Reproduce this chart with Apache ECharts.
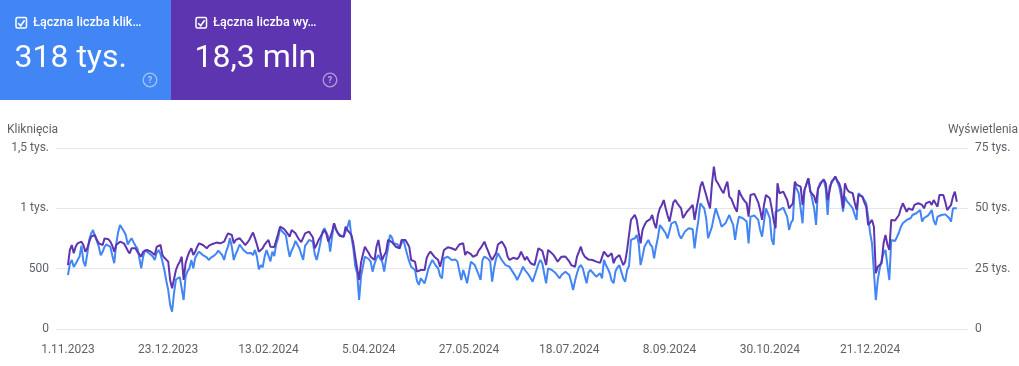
<!DOCTYPE html>
<html><head><meta charset="utf-8">
<script src="https://cdn.jsdelivr.net/npm/echarts@6/dist/echarts.min.js"></script>
<style>html,body{margin:0;padding:0;background:#fff}#c{width:1019px;height:366px}</style>
</head><body><div id="c"></div>
<script>
// ---- data (daily, starting 1.11.2023) ----
const startDate = '2023-11-01';
const clicks = [
447,540,572,513,540,572,600,690,560,520,620,737,790,820,770,730,682,610,640,682,700,710,680,610,545,700,800,862,850,810,
779,700,730,752,720,690,669,590,503,600,655,660,627,635,600,572,630,655,620,560,489,400,323,200,143,296,410,425,430,434,
240,434,480,503,572,503,590,620,641,625,613,600,594,572,590,600,610,627,649,630,613,572,640,682,752,680,572,620,655,700,
690,655,640,627,641,630,613,655,600,495,530,511,600,655,669,560,641,605,700,752,835,810,800,779,680,599,650,682,730,738,
669,620,572,690,710,738,730,724,620,572,641,720,807,835,800,765,641,765,876,820,807,779,770,765,779,848,904,765,669,520,
462,240,434,520,599,613,580,558,475,540,586,613,580,558,475,580,669,779,760,710,724,700,669,710,738,738,613,560,516,500,
489,400,365,420,434,379,440,503,540,572,545,520,503,440,420,586,590,599,585,572,586,575,558,480,406,489,440,379,470,558,
545,530,489,450,406,572,600,613,580,558,392,503,580,627,599,572,550,530,520,516,490,475,440,406,420,475,516,489,480,448,
420,392,440,489,540,572,545,460,379,503,500,489,475,462,440,420,448,460,475,460,448,392,323,400,462,510,530,503,440,379,
470,489,470,462,434,450,462,420,572,530,500,462,400,379,480,510,530,475,420,392,489,522,738,745,752,779,710,530,600,682,
710,738,700,682,586,682,760,862,840,835,793,750,738,876,885,890,848,779,750,738,807,820,835,830,826,669,800,904,1042,1020,
1000,918,752,800,848,930,1000,950,904,848,860,876,910,945,900,862,738,850,931,918,918,918,890,710,931,945,940,945,904,821,
765,890,1000,960,918,740,696,972,980,986,1000,1005,1014,931,821,880,904,1194,1180,1125,1125,876,1152,1200,1249,1152,1166,1000,862,1152,
1208,1220,1235,1166,945,1180,1180,1235,1263,1220,1180,1097,972,1097,1060,1042,1028,1000,950,904,1125,1110,1097,1070,1042,931,800,710,724,240,
406,500,572,627,655,530,406,738,738,730,724,800,848,876,890,904,910,918,945,950,959,975,986,890,920,931,940,960,986,900,
862,931,940,945,945,950,959,920,890,1000,1010,1000
];
const impressions = [
26500,32750,34800,31350,34100,35500,35750,36200,34800,32050,33450,36000,38250,38750,38950,36850,35500,35000,34800,37550,
37250,37150,36200,34500,32050,34800,35500,36200,35750,35500,34100,32500,31350,33450,34100,33500,32050,31000,29950,32050,
32500,32750,32400,32050,31250,30650,34000,34800,34800,30650,29500,28750,27900,20300,16850,16150,24450,26500,27900,29950,
20300,27250,30000,32050,33450,30650,32000,34000,35500,35000,34800,34000,33450,34400,35000,35250,35500,35800,35600,35500,
34800,36200,38000,39650,39250,38950,35500,36900,37250,37600,36750,36200,34800,35750,36900,38500,39950,37600,35000,32050,
32750,33450,35000,36000,36900,34100,34800,34000,33450,39500,42400,41750,41500,41300,39500,38250,41050,40500,39650,38250,
36900,36000,35500,39650,40000,40350,39650,38000,33450,35000,36900,38250,39650,41050,39500,36200,38000,40350,43800,41500,
39650,38550,38400,38250,42400,41000,40350,38950,35500,29950,25000,20300,27500,31000,34100,32750,31500,29950,29250,28600,
34100,36900,32000,28600,30500,32050,36900,36900,36000,35500,34100,33750,33450,36900,36900,36900,35500,34100,28600,28250,
27900,23750,24450,24450,24450,24450,29300,31000,32050,31000,29950,29250,28600,25800,29000,32750,33500,33850,33600,33450,
33450,32750,32050,35000,35500,35500,30650,32000,32750,31000,29950,30250,30650,32500,33500,34800,36200,34000,32050,30000,
28600,30000,31350,35000,35750,36200,35000,33450,30000,28600,29300,29500,29950,29000,30000,32050,31500,28600,29950,28500,
27250,26750,26500,30000,33450,33000,32400,32050,26500,32750,32000,31350,30500,29950,27900,29000,29950,30500,30000,29300,
28000,26500,26000,25800,30000,32000,34100,31350,30000,29300,28750,28600,28600,28250,27900,27500,27400,27250,32050,31000,
29950,30750,31350,27250,29300,30000,30650,28500,26500,27900,32750,39000,45200,44500,47250,45200,40000,35500,41050,43000,
44500,44500,45500,47250,44000,41750,47250,50000,51400,53450,50000,47000,44500,48600,52500,53450,52100,51000,50000,46000,
45200,48600,49500,50000,51400,45200,50000,54150,59000,61050,60400,55550,52500,50000,60000,67250,61750,60500,59000,57500,
56250,59000,61050,54850,54000,53450,50000,48600,57600,55500,54150,53000,52100,46550,55550,55550,56000,55500,52500,49300,
45200,51400,55550,54750,54150,50000,45000,41750,60400,56250,56500,56900,56250,53450,50000,51000,52100,61050,59700,59250,
59000,51400,57600,60000,62450,56900,57600,55000,52100,58300,59500,61050,62000,60400,53450,53450,61050,62000,63150,61500,
60400,57600,50000,60400,58000,56900,56250,56250,52500,49300,55550,55250,54850,52500,50700,43100,44000,45200,42400,23100,
25800,26500,27250,35500,38950,35000,32750,45200,45200,45000,44500,47250,50000,52100,51400,48600,50000,50700,49300,51400,
51750,52100,51400,51400,50000,52100,52500,52750,51400,53450,52000,50700,55550,55550,55550,52750,49300,50000,51400,54850,
56900,52750
];
const xTickLabels = ['1.11.2023','23.12.2023','13.02.2024','5.04.2024','27.05.2024','18.07.2024','8.09.2024','30.10.2024','21.12.2024'];
const clicksTicks = [0, 500, 1000, 1500];
const impressionsTicks = [0, 25000, 50000, 75000];
const tiles = [
  {label: 'Łączna liczba klik…', value: '318 tys.', color: '#4285f4'},
  {label: 'Łączna liczba wy…', value: '18,3 mln', color: '#5e35b1'}
];

// ---- helpers ----
const DAY = 86400000;
const t0 = Date.parse(startDate + 'T00:00:00Z');
function dayIndex(lbl) {
  const [d, m, y] = lbl.split('.').map(Number);
  return Math.round((Date.UTC(y, m - 1, d) - t0) / DAY);
}
const tickIdx = xTickLabels.map(dayIndex);
const idxToLabel = {};
tickIdx.forEach((v, i) => idxToLabel[v] = xTickLabels[i]);

function fmtClicks(v) {
  if (v === 0) return '0';
  if (v < 1000) return String(v);
  return String(v / 1000).replace('.', ',') + ' tys.';
}
function fmtImpr(v) {
  if (v === 0) return '0';
  return String(v / 1000).replace('.', ',') + ' tys.';
}

const FONT = 'Roboto, "Noto Sans", sans-serif';
const GRAY = '#5f6368';

// tiles graphic
const graphics = [];
const tileX = [0, 171];
const tileW = [171, 180];
const pad = [0, 9];
tiles.forEach((t, i) => {
  const tx = tileX[i], w = tileW[i], p = tx + pad[i];
  graphics.push({type: 'rect', left: tx, top: 0, shape: {width: w, height: 100}, style: {fill: t.color}, silent: true});
  // checkbox
  graphics.push({type: 'rect', x: p + 16, y: 17.6, shape: {x: 0, y: 0, width: 10.5, height: 10.5, r: 1.5},
    style: {fill: 'none', stroke: '#fff', lineWidth: 1.5}, silent: true});
  graphics.push({type: 'polyline', x: p + 18.2, y: 20.2, shape: {points: [[0, 3], [2.5, 5.5], [6.4, 0]]},
    style: {fill: 'none', stroke: '#fff', lineWidth: 1.6}, silent: true});
  graphics.push({type: 'text', x: p + 33, y: 22.5, style: {text: t.label, fill: '#fff', font: '500 12.6px ' + FONT, verticalAlign: 'middle'}, silent: true});
  graphics.push({type: 'text', x: p + 14.5, y: 59, style: {text: t.value, fill: '#fff', font: '400 32px ' + FONT, verticalAlign: 'middle'}, silent: true});
  // help icon
  graphics.push({type: 'circle', shape: {cx: tx + w - 21, cy: 80, r: 6.8},
    style: {fill: 'none', stroke: 'rgba(255,255,255,0.5)', lineWidth: 1.3}, silent: true});
  graphics.push({type: 'text', x: tx + w - 21, y: 80.5, style: {text: '?', fill: 'rgba(255,255,255,0.55)', font: '700 9px ' + FONT, align: 'center', verticalAlign: 'middle'}, silent: true});
});
graphics.push({type: 'text', left: 7, top: 124, style: {text: 'Kliknięcia', fill: GRAY, font: '12px ' + FONT}, silent: true});
graphics.push({type: 'text', right: 1, top: 124, style: {text: 'Wyświetlenia', fill: GRAY, font: '12px ' + FONT}, silent: true});

const chart = echarts.init(document.getElementById('c'), null, {renderer: 'canvas'});
chart.setOption({
  animation: false,
  graphic: graphics,
  grid: {left: 56, right: 51, top: 148, bottom: 37, containLabel: false},
  xAxis: {
    type: 'value', min: -6.2, max: 466.8,
    axisLine: {show: false}, axisTick: {show: false}, splitLine: {show: false},
    axisLabel: {customValues: tickIdx, formatter: v => idxToLabel[Math.round(v)] || '', color: GRAY, fontSize: 12, fontFamily: FONT, margin: 15}
  },
  yAxis: [
    {type: 'value', min: 0, max: 1500, interval: 500, position: 'left',
      axisLine: {show: false}, axisTick: {show: false},
      splitLine: {lineStyle: {color: '#e6e6e6', width: 1}},
      axisLabel: {formatter: fmtClicks, color: GRAY, fontSize: 12, fontFamily: FONT, margin: 7}},
    {type: 'value', min: 0, max: 75000, interval: 25000, position: 'right',
      axisLine: {show: false}, axisTick: {show: false}, splitLine: {show: false},
      axisLabel: {formatter: fmtImpr, color: GRAY, fontSize: 12, fontFamily: FONT, margin: 7}}
  ],
  series: [
    {name: 'Kliknięcia', type: 'line', yAxisIndex: 0, showSymbol: false, symbol: 'none',
      data: clicks.map((v, i) => [i, v]), lineStyle: {color: '#4285f4', width: 2}, itemStyle: {color: '#4285f4'}, z: 2},
    {name: 'Wyświetlenia', type: 'line', yAxisIndex: 1, showSymbol: false, symbol: 'none',
      data: impressions.map((v, i) => [i, v]), lineStyle: {color: '#5e35b1', width: 2}, itemStyle: {color: '#5e35b1'}, z: 3}
  ]
});
</script></body></html>
